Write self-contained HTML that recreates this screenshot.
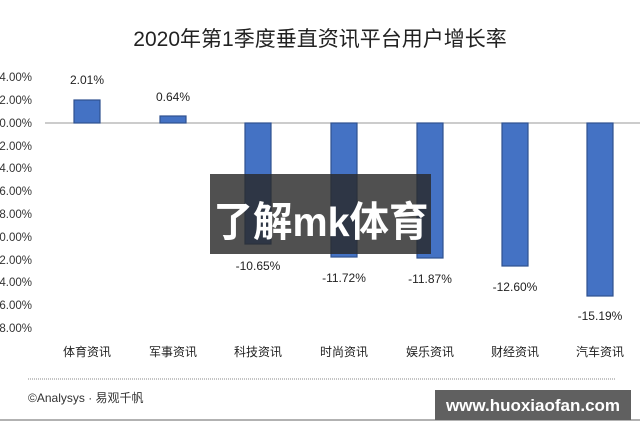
<!DOCTYPE html><html><head><meta charset="utf-8"><style>
body{margin:0;width:640px;height:427px;background:#fff;overflow:hidden;position:relative;font-family:"Liberation Sans","Noto Sans CJK SC",sans-serif}
</style></head><body>
<svg width="640" height="427" style="position:absolute;left:0;top:0" font-family="Liberation Sans, Noto Sans CJK SC, sans-serif">
<text x="320" y="46" font-size="21" text-anchor="middle" fill="#222">2020年第1季度垂直资讯平台用户增长率</text>
<g font-size="11.5" fill="#333" text-anchor="end">
<text x="32" y="81">4.00%</text><text x="32" y="104">2.00%</text><text x="32" y="127">0.00%</text>
<text x="32" y="150">2.00%</text><text x="32" y="172">4.00%</text><text x="32" y="195">6.00%</text>
<text x="32" y="218">8.00%</text><text x="32" y="241">0.00%</text><text x="32" y="264">2.00%</text>
<text x="32" y="286">4.00%</text><text x="32" y="309">6.00%</text><text x="32" y="332">8.00%</text>
</g>
<line x1="45" y1="123" x2="640" y2="123" stroke="#999" stroke-width="1"/>
<g fill="#4472C4" stroke="#2F528F" stroke-width="1.2">
<rect x="74" y="100" width="26" height="23"/>
<rect x="160" y="116" width="26" height="7"/>
<rect x="245" y="123" width="26" height="121"/>
<rect x="331" y="123" width="26" height="134"/>
<rect x="417" y="123" width="26" height="135"/>
<rect x="502" y="123" width="26" height="143"/>
<rect x="587" y="123" width="26" height="173"/>
</g>
<g font-size="12" fill="#222" text-anchor="middle">
<text x="87" y="84">2.01%</text><text x="173" y="101">0.64%</text>
<text x="258" y="270">-10.65%</text><text x="344" y="282">-11.72%</text><text x="430" y="283">-11.87%</text>
<text x="515" y="291">-12.60%</text><text x="600" y="320">-15.19%</text>
</g>
<g font-size="12" fill="#222" text-anchor="middle">
<text x="87" y="356">体育资讯</text><text x="173" y="356">军事资讯</text><text x="258" y="356">科技资讯</text>
<text x="344" y="356">时尚资讯</text><text x="430" y="356">娱乐资讯</text><text x="515" y="356">财经资讯</text><text x="600" y="356">汽车资讯</text>
</g>
<line x1="28" y1="379" x2="615" y2="379" stroke="#888" stroke-dasharray="1,1"/>
<text x="28" y="402" font-size="12" fill="#333">©Analysys · 易观千帆</text>
<line x1="0" y1="420" x2="640" y2="420" stroke="#999" stroke-width="1.5"/>
<rect x="210" y="174" width="221" height="80" fill="#2a2a2a" opacity="0.82"/>
<text x="321" y="236" font-size="41" font-weight="bold" fill="#fff" text-anchor="middle" textLength="215" lengthAdjust="spacingAndGlyphs">了解mk体育</text>
<rect x="435" y="390" width="196" height="30" fill="#606060"/>
<text x="533" y="411" font-size="17" font-weight="bold" fill="#fff" text-anchor="middle">www.huoxiaofan.com</text>
</svg>
</body></html>
